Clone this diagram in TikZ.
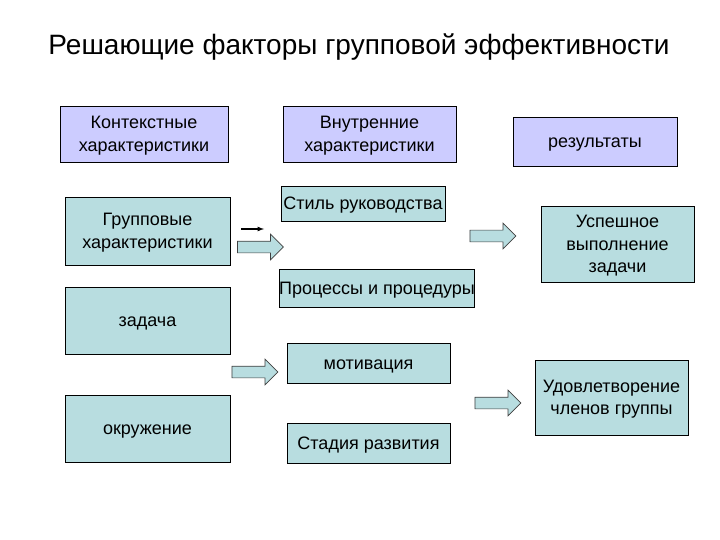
\documentclass[tikz,border=0pt]{standalone}
\usepackage{fontspec}
\setmainfont{Liberation Sans}
\usetikzlibrary{shapes.arrows,positioning}

\definecolor{lilac}{RGB}{204,204,255}
\definecolor{aqua}{RGB}{184,221,224}

\tikzset{
  box/.style={draw=black, line width=0.9pt, align=center, inner sep=0pt,
    font=\fontsize{18}{22.5}\selectfont},
  outer/.style={box, fill=lilac},
  inner/.style={box, fill=aqua},
  oneline/.style={text height=14pt, text depth=2pt},
  multiline/.style={text depth=0pt},
  fatarrow/.style={single arrow, draw=black!75, line width=0.7pt, fill=aqua,
    inner sep=5.5pt, single arrow head extend=7pt, minimum height=46pt}
}

\begin{document}
\begin{tikzpicture}[x=1pt, y=-1pt]
    \useasboundingbox (0,0) rectangle (720,540);
    \node[font=\fontsize{28}{32}\selectfont] (title) at (359,47) {Решающие факторы групповой эффективности};

    \node[outer, multiline, minimum width=168pt, minimum height=56pt] (context) at (144,134) {Контекстные\\характеристики};
    \node[outer, multiline, minimum width=173pt, minimum height=56pt] (internal) at (369.5,134) {Внутренние\\характеристики};
    \node[outer, oneline, minimum width=164pt, minimum height=49pt] (results) at (595,141.5) {результаты};

    \node[inner, multiline, minimum width=165pt, minimum height=68pt] (group) at (147.5,231) {Групповые\\характеристики};
    \node[inner, oneline, minimum width=165pt, minimum height=67pt] (task) at (147.5,320.5) {задача};
    \node[inner, oneline, minimum width=165pt, minimum height=67pt] (environ) at (147.5,428.5) {окружение};

    \node[inner, oneline, minimum width=164pt, minimum height=35pt] (style) at (363,203.5) {Стиль руководства};
    \node[inner, oneline, minimum width=192pt, minimum height=38pt] (process) at (377,288) {Процессы и процедуры};
    \node[inner, oneline, minimum width=163pt, minimum height=40pt] (motive) at (368.5,363) {мотивация};
    \node[inner, oneline, minimum width=163pt, minimum height=40pt] (stage) at (368.5,443) {Стадия развития};

    \node[inner, multiline, minimum width=153pt, minimum height=76pt] (success) at (617.5,244) {Успешное\\выполнение\\задачи};
    \node[inner, multiline, minimum width=153pt, minimum height=75pt] (satisfy) at (611.5,397.5) {Удовлетворение\\членов группы};

    \node[fatarrow] (arrowA) at (257.5,247) {};
    \node[fatarrow] (arrowB) at (490,236) {};
    \node[fatarrow] (arrowC) at (252,372) {};
    \node[fatarrow] (arrowD) at (495,403) {};

    \coordinate (tailA) at (241,229);
    \coordinate (headA) at (264,229);
    \draw[-latex, line width=1.2pt] (tailA) -- (headA);
\end{tikzpicture}
\end{document}
